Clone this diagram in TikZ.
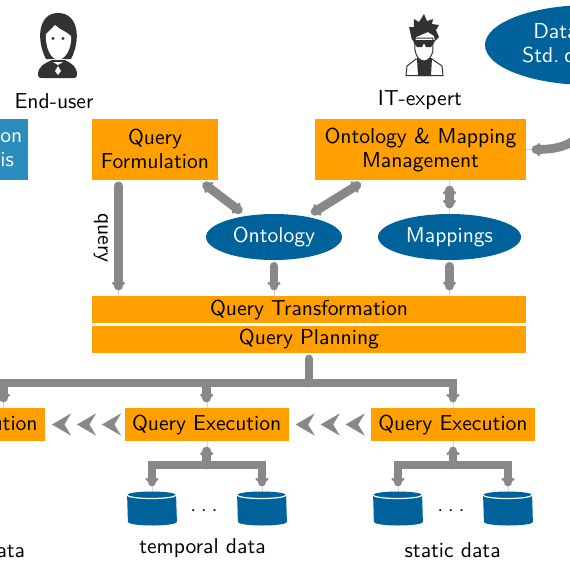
\documentclass[tikz,border=0pt]{standalone}
\usetikzlibrary{arrows.meta,shapes.geometric}
\definecolor{boxorange}{RGB}{255,160,0}
\definecolor{boxblue}{RGB}{43,140,190}
\definecolor{dbblue}{RGB}{0,98,155}
\definecolor{flowgray}{RGB}{136,136,136}
\definecolor{icondark}{RGB}{50,50,50}
\tikzset{
  chev/.tip={Arc Barb[length=1.8pt,width=7pt,line width=1.1pt,sep=0pt]Rectangle[length=4.8pt,width=.01pt,line width=0pt,sep=0pt]},
  bigchev/.tip={Stealth[length=9.5pt,width=11pt,inset=3.3pt,sep=3pt,color=flowgray,fill=flowgray]},
  txt/.style={font=\sffamily\fontsize{10.8}{12}\selectfont,inner sep=0pt,align=center},
  compbox/.style={txt,fill=boxorange,minimum width=#1},
  onto/.style={txt,ellipse,fill=dbblue,text=white},
  dbase/.style={inner sep=0pt,minimum width=24.5pt,minimum height=17pt},
  flow/.style={draw=flowgray,line width=4.4pt,line cap=round,line join=miter,shorten <=3pt},
  flowto/.style={flow,-{chev[]}},
  flowboth/.style={flow,{chev[]}-{chev[]},shorten <=0pt},
  seqto/.style={draw=white,line width=.1pt,-{bigchev[] bigchev[] bigchev[]},shorten <=2pt,shorten >=.3pt}
}
\begin{document}
\begin{tikzpicture}[x=.5pt,y=-.5pt]
  \path[use as bounding box,clip] (0,0) rectangle (570,570);

  % people
  \fill[icondark] (46,59) .. controls (36,40) and (38,13) .. (58,13) .. controls (79,13) and (81,40) .. (71,59) -- cycle;
  \fill[icondark] (38,75) .. controls (38,66) and (44,64) .. (52,60) -- (65,60) .. controls (72,64) and (77,66) .. (77,75) .. controls (77,78) and (75,78) .. (73,78) -- (42,78) .. controls (40,78) and (38,78) .. (38,75) -- cycle;
  \fill[white] (46,34) .. controls (50,30) and (52,28) .. (55,25) .. controls (60,30) and (66,31) .. (71,36) .. controls (72,48) and (66,59) .. (58,60) .. controls (51,59) and (45,48) .. (46,34) -- cycle;
  \fill[icondark] (53,38.5) circle (1.6) (63,38.5) circle (1.6);
  \fill[white] (53,62) -- (63,62) -- (58,65) -- cycle;
  \fill[white] (58,66) -- (61,71) -- (58,75) -- (55,71) -- cycle;

  \filldraw[draw=icondark,fill=white,line width=.5pt] (406,75.5) -- (407,66) -- (416,59) -- (432,59) -- (442,66) -- (443,75.5) -- cycle;
  \fill[icondark] (417,58) -- (432,58) -- (431,76) -- (418,76) -- cycle;
  \filldraw[draw=icondark,fill=white,line width=.5pt] (415,38) -- (433,38) -- (433,50) .. controls (432,57) and (428,61) .. (424,61) .. controls (420,61) and (416,57) .. (415,50) -- cycle;
  \fill[icondark] (412,40) -- (409,27) -- (414,27) -- (414,19) -- (419,22) -- (424,14) -- (427,21) -- (433,19) -- (432,24) -- (439,25) -- (436,30) -- (439,37) -- (435,41) -- (434,36) -- (428,32) -- (416,37) -- (415,41) -- cycle;
  \fill[icondark] (413,40) -- (435,40) -- (434,43) -- (431,47) -- (426,47) -- (424,43) -- (422,47) -- (417,47) -- (414,43) -- cycle;

  \node[txt] (enduser) at (54,101) {End-user};
  \node[txt] (itexpert) at (420,100) {IT-expert};

  % top row
  \node[txt,fill=boxblue,minimum width=65pt,minimum height=30.5pt] (vis) at (-36.5,149.5) {};
  \node[txt,text=white,anchor=west,align=left] (vistext) at (0,149.5) {on\\is};
  \node[compbox=63pt,minimum height=30.5pt] (qf) at (155,149) {Query\\Formulation};
  \node[compbox=105.5pt,minimum height=30.5pt] (om) at (420.5,149.5) {Ontology \& Mapping\\Management};
  \node[onto,minimum width=68pt,minimum height=23pt] (ont) at (274,237) {Ontology};
  \node[onto,minimum width=71.5pt,minimum height=23pt] (map) at (449.5,237) {Mappings};
  \node[onto,minimum width=105pt,minimum height=40pt] (data) at (590,45) {};
  \node[txt,text=white,anchor=west,align=left] (datatext) at (522,43) {\hspace*{5.5pt}Data\\Std.\hspace{2.5pt}d};

  % middle
  \node[compbox=217pt,minimum height=13.5pt] (qt) at (309,309.5) {Query Transformation};
  \node[compbox=217pt,minimum height=13.5pt] (qp) at (309,339) {Query Planning};
  \node[compbox=82pt,minimum height=16.5pt] (qel) at (-37,424.5) {Query Execution};
  \node[compbox=82pt,minimum height=16.5pt] (qem) at (206.7,424.5) {Query Execution};
  \node[compbox=82pt,minimum height=16.5pt] (qer) at (453,424.5) {Query Execution};

  % sources
  \foreach \dbname/\dbx in {tdba/152,tdbb/262,sdba/398,sdbb/508} {
    \node[dbase] (\dbname) at (\dbx,509) {};
    \fill[dbblue] (\dbname.west |- 0,495) arc (180:360:24.5 and 3.5) -- (\dbname.east |- 0,522) arc (0:180:24.5 and 3.5) -- cycle;
    \draw[white,line width=.6pt] (\dbname.west |- 0,495) arc (180:0:24.5 and 3.5);
  }
  \node[txt] (tdots) at (204,511) {.\hspace{2.3pt}.\hspace{2.3pt}.};
  \node[txt] (sdots) at (451,511) {.\hspace{2.3pt}.\hspace{2.3pt}.};
  \node[txt,anchor=east] (ldata) at (25.5,550) {data};
  \node[txt] (tdata) at (202.5,548) {temporal data};
  \node[txt] (sdata) at (452.7,550) {static data};
  \node[txt,rotate=-90] (querylab) at (101,238) {query};

  % arrows
  \coordinate (qfdown) at ([xshift=-18.25pt]qf.south);
  \coordinate (qfout) at ([xshift=22pt]qf.south);
  \coordinate (omout) at ([xshift=-27.75pt]om.south);
  \coordinate (qedrop) at ([xshift=20.25pt]qel.north);
  \coordinate (bus) at (309,383);
  \coordinate (tbus) at (206.7,465);
  \coordinate (sbus) at (453,465);

  \draw[flowto] (qfdown) -- (qfdown |- qt.north);
  \draw[flowto] (ont.south) -- (ont.south |- qt.north);
  \draw[flowto] (map.south) -- (map.south |- qt.north);
  \draw[flowboth] (qfout) -- (ont);
  \draw[flowboth] (omout) -- (ont);
  \draw[flowboth] (om.south -| map.south) -- (map.north);
  \draw[flowto] (data.south) to[out=-90,in=0,looseness=1.4] (om.east);

  \draw[flow] (qp.south) -- (bus);
  \draw[flowto,shorten <=0pt] (bus) -| (qedrop);
  \draw[flowto,shorten <=0pt] (bus) -| (qem.north);
  \draw[flowto,shorten <=0pt] (bus) -| (qer.north);

  \draw[flowto,shorten <=0pt] (tbus) -- (qem.south);
  \draw[flowto,shorten <=0pt] (tbus) -| (tdba.north);
  \draw[flowto,shorten <=0pt] (tbus) -| (tdbb.north);
  \draw[flowto,shorten <=0pt] (sbus) -- (qer.south);
  \draw[flowto,shorten <=0pt] (sbus) -| (sdba.north);
  \draw[flowto,shorten <=0pt] (sbus) -| (sdbb.north);

  \draw[seqto] (qem.west) -- (qel.east);
  \draw[seqto] (qer.west) -- (qem.east);
\end{tikzpicture}
\end{document}
